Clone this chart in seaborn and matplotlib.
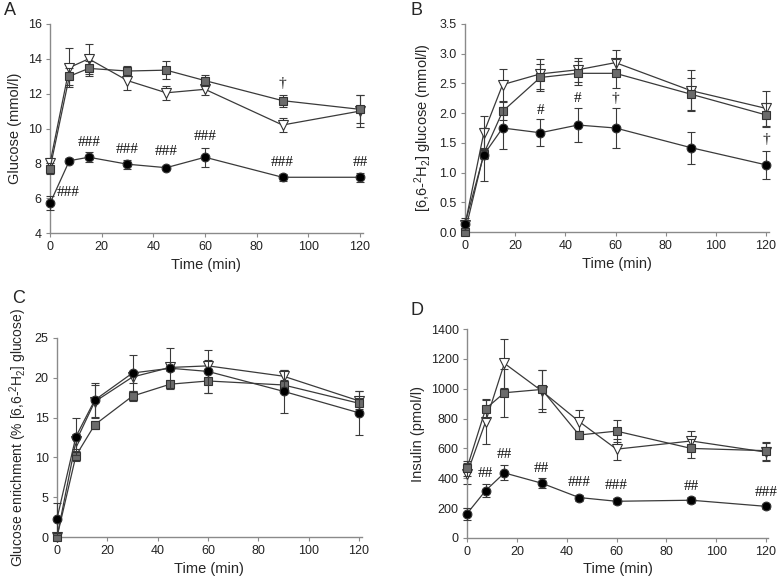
import matplotlib
matplotlib.use('Agg')
import matplotlib.pyplot as plt
import seaborn as sns

# sampling times (min)
time = [0, 7.5, 15, 30, 45, 60, 90, 120]

# Panel A: glucose (mmol/l)
glc_circle = [5.7, 8.15, 8.35, 7.95, 7.75, 8.35, 7.2, 7.2]
glc_circle_err = [0.4, 0.15, 0.3, 0.25, 0.1, 0.55, 0.2, 0.25]
glc_square = [7.7, 13.0, 13.45, 13.3, 13.35, 12.75, 11.6, 11.1]
glc_square_err = [0.3, 0.5, 0.45, 0.3, 0.5, 0.3, 0.35, 0.8]
glc_tri = [8.0, 13.5, 14.0, 12.75, 12.05, 12.25, 10.2, 11.0]
glc_tri_err = [0.3, 1.1, 0.85, 0.55, 0.4, 0.35, 0.4, 0.9]

# Panel B: [6,6-2H2] glucose (mmol/l)
lab_circle = [0.14, 1.3, 1.75, 1.67, 1.8, 1.75, 1.42, 1.13]
lab_circle_err = [0.1, 0.45, 0.35, 0.23, 0.28, 0.33, 0.27, 0.23]
lab_square = [0.0, 1.32, 2.03, 2.6, 2.67, 2.67, 2.32, 1.97]
lab_square_err = [0.0, 0.1, 0.15, 0.22, 0.2, 0.24, 0.27, 0.2]
lab_tri = [0.12, 1.67, 2.48, 2.66, 2.73, 2.85, 2.38, 2.08]
lab_tri_err = [0.05, 0.28, 0.27, 0.25, 0.2, 0.22, 0.35, 0.3]

# Panel C: glucose enrichment (%)
enr_circle = [2.3, 12.6, 17.2, 20.6, 21.2, 20.8, 18.3, 15.6]
enr_circle_err = [2.0, 2.3, 2.1, 2.3, 2.6, 2.7, 2.7, 2.8]
enr_square = [0.0, 10.2, 14.1, 17.7, 19.2, 19.6, 19.1, 16.8]
enr_square_err = [0.0, 0.6, 0.5, 0.6, 0.5, 1.5, 0.6, 0.7]
enr_tri = [0.0, 12.0, 17.0, 20.1, 21.3, 21.5, 20.2, 17.1]
enr_tri_err = [0.0, 1.0, 2.1, 0.8, 0.5, 0.7, 0.8, 1.3]

# Panel D: insulin (pmol/l)
ins_circle = [163, 318, 436, 367, 271, 246, 253, 212]
ins_circle_err = [40, 45, 50, 35, 20, 20, 20, 15]
ins_square = [468, 866, 973, 995, 690, 716, 600, 585]
ins_square_err = [50, 60, 160, 130, 30, 75, 65, 60]
ins_tri = [430, 780, 1170, 985, 780, 595, 650, 575]
ins_tri_err = [70, 150, 165, 140, 80, 70, 70, 60]

# significance marks: (time, y, text)
marks_a = [(7, 6.35, '###'), (15, 9.2, '###'), (30, 8.8, '###'), (45, 8.7, '###'),
           (60, 9.55, '###'), (90, 8.05, '###'), (120, 8.05, '##'), (90, 12.6, '\u2020')]
marks_b = [(30, 2.05, '#'), (45, 2.25, '#'), (60, 2.25, '\u2020'), (120, 1.56, '\u2020')]
marks_d = [(7.5, 430, '##'), (15, 560, '##'), (30, 465, '##'), (45, 375, '###'),
           (60, 352, '###'), (90, 345, '##'), (120, 308, '###')]

sns.set_style('ticks')
plt.rcParams['font.family'] = ['Liberation Sans', 'DejaVu Sans']
plt.rcParams['mathtext.fontset'] = 'custom'
plt.rcParams['mathtext.rm'] = 'Liberation Sans'
plt.rcParams['mathtext.it'] = 'Liberation Sans:italic'

LINE = '#3a3a3a'
SPINE = '#8a8a8a'


def draw_panel(ax, circle, circle_err, square, square_err, tri, tri_err):
    series = [
        (tri, tri_err, 'v', 'white', 3),
        (square, square_err, 's', '#6b6b6b', 4),
        (circle, circle_err, 'o', 'black', 5),
    ]
    for vals, errs, marker, face, z in series:
        ax.errorbar(time, vals, yerr=errs, fmt='none', ecolor=LINE, elinewidth=0.8,
                    capsize=3, capthick=0.8, zorder=z - 0.5, clip_on=False)
        sns.lineplot(x=time, y=vals, ax=ax, color=LINE, linewidth=0.9, marker=marker,
                     markersize=6.3 if marker != 'v' else 7, markerfacecolor=face,
                     markeredgecolor='#333333', markeredgewidth=0.8, errorbar=None,
                     zorder=z, clip_on=False)


def style_axes(ax, ylim, yticks, ylabel, fmt, letter, lx, ly):
    ax.set_xlim(0, 121)
    ax.set_ylim(*ylim)
    ax.set_xticks([0, 20, 40, 60, 80, 100, 120])
    ax.set_yticks(yticks)
    ax.set_yticklabels([fmt.format(v) for v in yticks])
    ax.set_xlabel('Time (min)', fontsize=10.5, labelpad=3)
    ax.set_ylabel(ylabel, fontsize=10.5, labelpad=4)
    sns.despine(ax=ax)
    for s in ['left', 'bottom']:
        ax.spines[s].set_color(SPINE)
        ax.spines[s].set_linewidth(1.0)
    ax.tick_params(direction='out', length=3, width=0.8, color=SPINE,
                   labelsize=9, labelcolor='#222222', pad=3)
    fig.text(lx, ly, letter, fontsize=13, ha='left', va='top')


def add_marks(ax, marks):
    for x, y, txt in marks:
        ax.text(x, y, txt, ha='center', va='center', fontsize=11,
                family=['Liberation Serif', 'DejaVu Serif'], color='#111111', zorder=6)


fig = plt.figure(figsize=(7.78, 5.83), dpi=100)
W, H = 778, 583


def add_ax(left, right, top, bottom):
    return fig.add_axes([left / W, 1 - bottom / H, (right - left) / W * 121 / 120, (bottom - top) / H])


ax_a = add_ax(50, 360, 24, 233)
ax_b = add_ax(465, 766, 24, 232)
ax_c = add_ax(57, 359, 338, 537)
ax_d = add_ax(467, 766, 329, 538)

draw_panel(ax_a, glc_circle, glc_circle_err, glc_square, glc_square_err, glc_tri, glc_tri_err)
style_axes(ax_a, (4, 16), [4, 6, 8, 10, 12, 14, 16], 'Glucose (mmol/l)', '{:.0f}', 'A', 4 / W, 1 - 2 / H)
add_marks(ax_a, marks_a)

draw_panel(ax_b, lab_circle, lab_circle_err, lab_square, lab_square_err, lab_tri, lab_tri_err)
style_axes(ax_b, (0, 3.5), [0, 0.5, 1.0, 1.5, 2.0, 2.5, 3.0, 3.5],
           '[6,6-$^{2}$H$_{2}$] glucose (mmol/l)', '{:.1f}', 'B', 410 / W, 1 - 2 / H)
add_marks(ax_b, marks_b)

draw_panel(ax_c, enr_circle, enr_circle_err, enr_square, enr_square_err, enr_tri, enr_tri_err)
style_axes(ax_c, (0, 25), [0, 5, 10, 15, 20, 25],
           'Glucose enrichment (% [6,6-$^{2}$H$_{2}$] glucose)', '{:.0f}', 'C', 12 / W, 1 - 290 / H)
ax_c.yaxis.label.set_fontsize(10)

draw_panel(ax_d, ins_circle, ins_circle_err, ins_square, ins_square_err, ins_tri, ins_tri_err)
style_axes(ax_d, (0, 1400), [0, 200, 400, 600, 800, 1000, 1200, 1400],
           'Insulin (pmol/l)', '{:.0f}', 'D', 410 / W, 1 - 302 / H)
add_marks(ax_d, marks_d)

fig.savefig('out.png', dpi=100)
